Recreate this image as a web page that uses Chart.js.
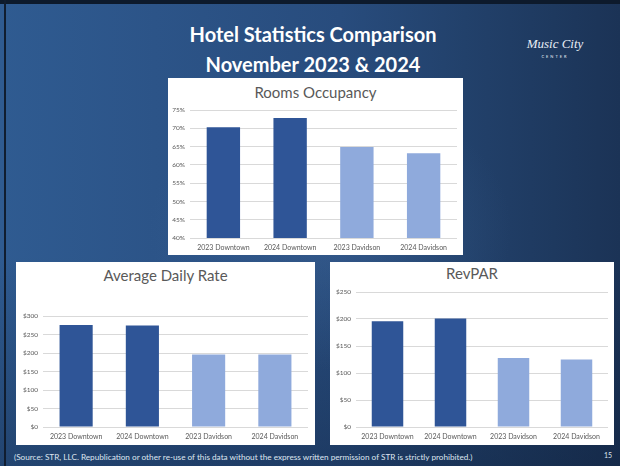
<!DOCTYPE html>
<html>
<head>
<meta charset="utf-8">
<script src="https://cdn.jsdelivr.net/npm/chart.js@4"></script>
<style>
  html, body { margin: 0; padding: 0; }
  body {
    width: 620px; height: 466px; overflow: hidden; position: relative;
    background:
      radial-gradient(ellipse 260px 200px at 330px 230px, rgba(70,110,160,0.35), rgba(70,110,160,0) 70%),
      linear-gradient(180deg, rgba(0,0,0,0) 55%, rgba(10,25,50,0.35) 100%),
      linear-gradient(90deg, #2f5b91 0%, #2c5488 25%, #284c7d 55%, #22416b 75%, #1b3356 100%);
    font-family: Lato, "Open Sans", sans-serif;
  }
  .edge-top  { position: absolute; left: 0; top: 0; width: 620px; height: 4px; background: #0d1a2c; }
  .edge-left { position: absolute; left: 4px; top: 0; width: 2px; height: 466px; background: #101d30; }
  .title {
    position: absolute; left: 0; width: 626px; text-align: center; color: #fff;
    font-weight: 700; font-size: 20px; line-height: 26px;
  }
  .logo { position: absolute; left: 520px; top: 36px; width: 70px; text-align: center; color: #e8eef6; }
  .logo .name { font-family: "Liberation Serif", serif; font-style: italic; font-size: 13px; }
  .logo .sub { font-size: 4px; letter-spacing: 2px; margin-top: 2px; }
  .box { position: absolute; background: #fff; }
  .box canvas { position: absolute; left: 0; top: 0; }
  .ctitle {
    position: absolute; left: 0; right: 0; text-align: center; color: #595959;
    font-size: 15px; line-height: 18px; font-weight: 400;
  }
  .footer { position: absolute; left: 14px; top: 452px; color: #dfe6f0; font-size: 8.2px; }
  .pnum { position: absolute; left: 604px; top: 451px; color: #dfe6f0; font-size: 7px; }
</style>
</head>
<body>
<div class="edge-top"></div>
<div class="edge-left"></div>
<div class="title" style="top:21px;">Hotel Statistics Comparison</div>
<div class="title" style="top:51px;">November 2023 &amp; 2024</div>
<div class="logo"><div class="name">Music City</div><div class="sub">CENTER</div></div>

<div class="box" style="left:168px;top:78px;width:295px;height:177px;">
  <div class="ctitle" style="top:5px;">Rooms Occupancy</div>
  <canvas id="occChart" width="295" height="177"></canvas>
</div>
<div class="box" style="left:16px;top:262px;width:299px;height:183px;">
  <div class="ctitle" style="top:4px;">Average Daily Rate</div>
  <canvas id="adrChart" width="299" height="183"></canvas>
</div>
<div class="box" style="left:330px;top:262px;width:284px;height:183px;">
  <div class="ctitle" style="top:2px;">RevPAR</div>
  <canvas id="revChart" width="284" height="183"></canvas>
</div>

<div class="footer">(Source: STR, LLC. Republication or other re-use of this data without the express written permission of STR is strictly prohibited.)</div>
<div class="pnum">15</div>

<script>
/* ── Datos ── */
var categories = ['2023 Downtown', '2024 Downtown', '2023 Davidson', '2024 Davidson'];
var occupancy  = [70.3, 72.8, 64.9, 63.2];   /* % */
var adr        = [276, 274, 196, 196];        /* $ */
var revpar     = [196, 201, 128, 125];        /* $ */
var barColors  = ['#2F5597', '#2F5597', '#8FAADC', '#8FAADC'];

var occAxis = { min: 40, max: 75, step: 5 };
var adrAxis = { min: 0, max: 300, step: 50 };
var revAxis = { min: 0, max: 250, step: 50 };

/* ── Gráfica genérica de barras ── */
function makeBarChart(id, values, axis, fmt, geo) {
  var canvas = document.getElementById(id);
  return new Chart(canvas.getContext('2d'), {
    type: 'bar',
    data: {
      labels: categories,
      datasets: [{
        data: values,
        backgroundColor: barColors,
        barPercentage: 0.5,
        categoryPercentage: 1.0
      }]
    },
    options: {
      responsive: false,
      animation: false,
      layout: { padding: { top: geo.top, right: geo.right, left: 0, bottom: 0 } },
      plugins: { legend: { display: false }, tooltip: { enabled: false } },
      scales: {
        x: {
          grid: { display: false, drawTicks: false },
          border: { display: false },
          ticks: { font: { family: 'Lato', size: 7 }, color: '#595959', padding: 6, maxRotation: 0, autoSkip: false },
          afterFit: function(s) { s.height = geo.xh; }
        },
        y: {
          min: axis.min, max: axis.max,
          grid: { color: '#D9D9D9', lineWidth: 1, drawTicks: false },
          border: { display: false },
          ticks: {
            stepSize: axis.step,
            font: { family: 'Lato', size: 6.5 }, color: '#595959', padding: 5,
            callback: function(v) { return fmt(v); }
          },
          afterFit: function(s) { s.width = geo.yw; }
        }
      }
    }
  });
}

makeBarChart('occChart', occupancy, occAxis, function(v) { return v + '%'; },
  { top: 32, right: 6, yw: 22, xh: 17 });
makeBarChart('adrChart', adr, adrAxis, function(v) { return '$' + v; },
  { top: 54, right: 7, yw: 27, xh: 18 });
makeBarChart('revChart', revpar, revAxis, function(v) { return '$' + v; },
  { top: 30, right: 6, yw: 26, xh: 18 });
</script>
</body>
</html>
